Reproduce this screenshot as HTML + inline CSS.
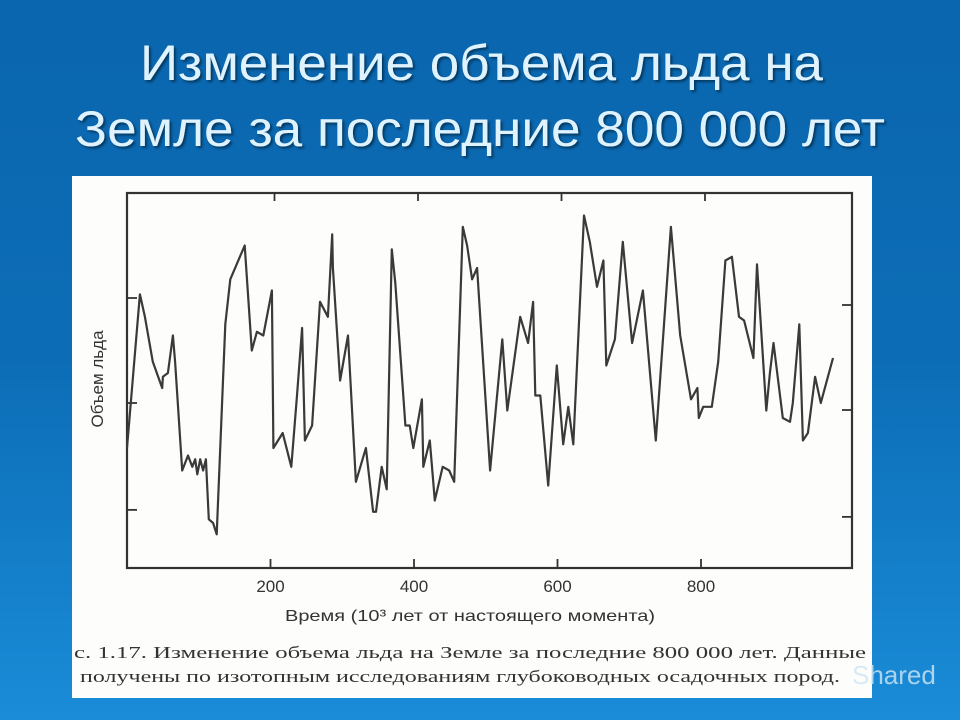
<!DOCTYPE html>
<html><head><meta charset="utf-8"><style>
html,body{margin:0;padding:0;width:960px;height:720px;overflow:hidden}
body{background:linear-gradient(#0a66ae 0%,#0c6db6 50%,#1a8cd8 100%)}
svg{display:block}
</style></head><body>
<svg id="chart" width="960" height="720" xmlns="http://www.w3.org/2000/svg">
  <defs><filter id="sh"><feDropShadow dx="2" dy="2" stdDeviation="1.2" flood-color="#032a4a" flood-opacity="0.8"/></filter></defs>
  <g filter="url(#sh)" fill="#dff3ff" font-family="'Liberation Sans Narrow','Liberation Sans',sans-serif" font-size="50">
    <text x="140" y="80" textLength="683" lengthAdjust="spacingAndGlyphs">Изменение объема льда на</text>
    <text x="75" y="146" textLength="810" lengthAdjust="spacingAndGlyphs">Земле за последние 800 000 лет</text>
  </g>
  <rect x="72" y="176" width="800" height="522" fill="#fdfdfb"/>
  <rect x="127" y="193" width="725" height="375" fill="none" stroke="#333" stroke-width="2.2"/>
  <g id="ticks" stroke="#333" stroke-width="1.8"></g>
  <g id="xlabels" font-family="'Liberation Sans Narrow','Liberation Sans',sans-serif" font-size="17" fill="#333" text-anchor="middle"></g>
  <path id="series" fill="none" stroke="#3a3a3a" stroke-width="2.2" stroke-linejoin="round"/>
  <text transform="translate(103,379) rotate(-90)" text-anchor="middle" font-family="'Liberation Sans Narrow','Liberation Sans',sans-serif" font-size="17" fill="#333">Объем льда</text>
  <text x="470" y="621" text-anchor="middle" font-family="'Liberation Sans Narrow','Liberation Sans',sans-serif" font-size="16" fill="#333" textLength="370" lengthAdjust="spacingAndGlyphs">Время (10³ лет от настоящего момента)</text>
  <g font-family="'Liberation Serif',serif" font-size="17" fill="#333">
    <text x="74" y="658" textLength="792" lengthAdjust="spacingAndGlyphs">с. 1.17. Изменение объема льда на Земле за последние 800 000 лет. Данные</text>
    <text x="80" y="682" textLength="760" lengthAdjust="spacingAndGlyphs">получены по изотопным исследованиям глубоководных осадочных пород.</text>
  </g>
  <text x="852" y="684" font-family="'Liberation Sans',sans-serif" font-size="26" fill="#cfe6f5" opacity="0.8">Shared</text>
</svg>
<script>
const times=[0,18,25,36,49,50,57,64,67,77,85,91,95,98,102,106,110,114,120,125,137,144,164,174,181,190,202,204,217,229,237,244,248,258,269,280,286,287,297,308,319,333,343,347,355,362,369,374,388,394,399,411,413,422,429,440,449,456,468,474,481,488,506,523,530,548,559,566,569,576,587,599,608,615,622,637,645,655,664,668,680,691,704,719,737,758,771,786,795,797,803,815,824,834,843,853,860,873,878,891,896,901,914,924,928,937,942,949,959,967,984];
const iceVolume=[32,73,67,55,48,51,52,62,55,26,30,27,29,25,29,26,29,13,12,9,65,77,86,58,63,62,74,32,36,27,46,64,34,38,71,67,89,80,50,62,23,32,15,15,27,21,85,76,38,38,32,45,27,34,18,27,26,23,91,86,77,80,26,61,42,67,60,71,46,46,22,54,33,43,33,94,87,75,82,54,61,87,60,74,34,91,62,45,48,40,43,43,55,82,83,67,66,56,81,42,52,60,40,39,44,65,34,36,51,44,56];
const xTicks=[200,400,600,800];
const xTickLabels=["200","400","600","800"];
const yTicks=[15.5,44,72];
const X0=127,PXK=0.7175,Y0=568,PXV=3.75;
const xs=t=>X0+t*PXK, ys=v=>Y0-v*PXV;
const ns="http://www.w3.org/2000/svg";
let d="";
times.forEach((t,i)=>{d+=(i?"L":"M")+xs(t).toFixed(1)+","+ys(iceVolume[i]).toFixed(1);});
document.getElementById('series').setAttribute('d',d);
const tg=document.getElementById('ticks'),lg=document.getElementById('xlabels');
xTicks.forEach((t,i)=>{
  const x=xs(t);
  const a=document.createElementNS(ns,'line');
  
  
  a.setAttribute('x1',x);a.setAttribute('x2',x);a.setAttribute('y1',Y0);a.setAttribute('y2',Y0-9);tg.appendChild(a);
  const b=document.createElementNS(ns,'line');
  
  
  b.setAttribute('x1',x+4);b.setAttribute('x2',x+4);b.setAttribute('y1',193);b.setAttribute('y2',201);tg.appendChild(b);
  const l=document.createElementNS(ns,'text');
  
  
  l.setAttribute('x',x);l.setAttribute('y',592);l.textContent=xTickLabels[i];lg.appendChild(l);
});
yTicks.forEach(v=>{
  const y=ys(v);
  const a=document.createElementNS(ns,'line');
  
  
  a.setAttribute('x1',127);a.setAttribute('x2',137);a.setAttribute('y1',y);a.setAttribute('y2',y);tg.appendChild(a);
  const b=document.createElementNS(ns,'line');
  
  
  b.setAttribute('x1',842);b.setAttribute('x2',852);b.setAttribute('y1',y+7);b.setAttribute('y2',y+7);tg.appendChild(b);
});
</script>
</body></html>
